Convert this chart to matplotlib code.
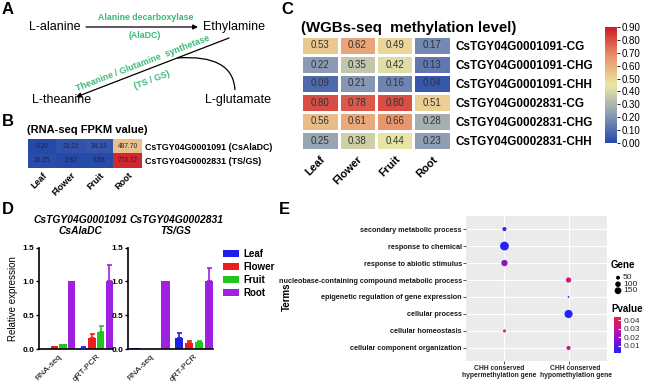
import numpy as np
import matplotlib.pyplot as plt
from matplotlib.colors import LinearSegmentedColormap
from matplotlib.patches import Patch, PathPatch
from matplotlib.path import Path

plt.rcParams['font.family'] = ['Liberation Sans', 'DejaVu Sans']

W, H = 650, 384

# B: RNA-seq FPKM
tissues = ["Leaf", "Flower", "Fruit", "Root"]
fpkm_genes = ["CsTGY04G0001091 (CsAlaDC)", "CsTGY04G0002831 (TS/GS)"]
fpkm = [[0.20, 23.22, 34.13, 487.70],
        [10.25, 2.82, 3.58, 773.72]]

# C: WGBS methylation level
meth_rows = ["CsTGY04G0001091-CG", "CsTGY04G0001091-CHG", "CsTGY04G0001091-CHH",
             "CsTGY04G0002831-CG", "CsTGY04G0002831-CHG", "CsTGY04G0002831-CHH"]
meth = [[0.53, 0.62, 0.49, 0.17],
        [0.22, 0.35, 0.42, 0.13],
        [0.09, 0.21, 0.16, 0.04],
        [0.80, 0.78, 0.80, 0.51],
        [0.56, 0.61, 0.66, 0.28],
        [0.25, 0.38, 0.44, 0.23]]

# D: relative expression, rows = tissues, cols = RNA-seq / qRT-PCR
d_groups = ["RNA-seq", "qRT-PCR"]
aladc_mean = [[0.0004, 0.02], [0.048, 0.16], [0.070, 0.255], [1.0, 1.0]]
aladc_err = [[0, 0.005], [0, 0.055], [0, 0.085], [0, 0.24]]
tsgs_mean = [[0.013, 0.16], [0.004, 0.09], [0.005, 0.10], [1.0, 1.0]]
tsgs_err = [[0, 0.08], [0, 0.03], [0, 0.012], [0, 0.20]]
bar_colors = ["#1f1fe8", "#ee1c1c", "#22c422", "#a020e0"]

# E: GO enrichment dot plot
terms = ["secondary metabolic process", "response to chemical",
         "response to abiotic stimulus",
         "nucleobase-containing compound metabolic process",
         "epigenetic regulation of gene expression", "cellular process",
         "cellular homeostasis", "cellular component organization"]
e_groups = ["CHH conserved\nhypermethylation gene", "CHH conserved\nhypomethylation gene"]
term_group = [0, 0, 0, 1, 1, 1, 0, 1]
gene_count = [55, 250, 130, 90, 10, 215, 30, 55]
pvalue = [0.007, 0.003, 0.02, 0.036, 0.008, 0.002, 0.042, 0.033]
gene_legend = [50, 100, 150]
p_ticks = [0.01, 0.02, 0.03, 0.04]


def box(x0, y0, x1, y1):
    return [x0 / W, 1 - y1 / H, (x1 - x0) / W, (y1 - y0) / H]


fig = plt.figure(figsize=(W / 100, H / 100), dpi=100)

# overlay in pixel coordinates for panel A, letters and legends
ov = fig.add_axes([0, 0, 1, 1])
ov.set_xlim(0, W)
ov.set_ylim(H, 0)
ov.axis('off')

for letter, (x, y) in zip("ABCDE", [(8, 10), (8, 121), (287, 10), (8, 210), (284, 210)]):
    ov.text(x, y, letter, fontsize=12, fontweight='bold', ha='center', va='center')

# ---- A: pathway ----
green = "#3cb878"
ov.text(55, 27, "L-alanine", fontsize=9, ha='center', va='center')
ov.text(234, 27, "Ethylamine", fontsize=9, ha='center', va='center')
ov.text(62, 100, "L-theanine", fontsize=9, ha='center', va='center')
ov.text(238, 100, "L-glutamate", fontsize=9, ha='center', va='center')
arr = dict(arrowstyle='-|>', lw=0.9, color='k', mutation_scale=7, shrinkA=0, shrinkB=0)
ov.annotate("", xy=(198, 27), xytext=(86, 27), arrowprops=arr)
ov.annotate("", xy=(76, 97), xytext=(229, 38), arrowprops=arr)
ov.text(146, 18, "Alanine decarboxylase", fontsize=6.3, fontweight='bold', color=green,
        ha='center', va='center')
ov.text(145, 36, "(AlaDC)", fontsize=6.3, fontweight='bold', color=green,
        ha='center', va='center')
ov.text(143, 63, "Theanine / Glutamine  synthetase", fontsize=6.4, fontweight='bold',
        color=green, ha='center', va='center', rotation=21)
ov.text(152, 80, "(TS / GS)", fontsize=6.4, fontweight='bold', color=green,
        ha='center', va='center', rotation=21)
curve = Path([(177, 58), (233, 54), (235, 90)], [Path.MOVETO, Path.CURVE3, Path.CURVE3])
ov.add_patch(PathPatch(curve, fill=False, lw=0.9, color='k'))

# ---- B: FPKM heatmap ----
ov.text(27, 130, "(RNA-seq FPKM value)", fontsize=8, fontweight='bold', va='center')
cmap_hm = LinearSegmentedColormap.from_list(
    "meth", ["#2549a8", "#8d9db5", "#ece7a5", "#e8906a", "#cc1a26"])
axb = fig.add_axes(box(28, 139, 142, 168))
axb.imshow(fpkm, cmap=cmap_hm, vmin=0, vmax=800, aspect='auto')
for i, row in enumerate(fpkm):
    for j, v in enumerate(row):
        axb.text(j, i, f"{v:.2f}", fontsize=4.8, ha='center', va='center', color='#222244')
axb.set_xticks(range(len(tissues)))
axb.set_xticklabels(tissues, rotation=45, ha='right', rotation_mode='anchor',
                    fontsize=6.5, fontweight='bold')
axb.yaxis.tick_right()
axb.set_yticks(range(len(fpkm_genes)))
axb.set_yticklabels(fpkm_genes, fontsize=6.4, fontweight='bold')
axb.tick_params(length=0, pad=2)
for s in axb.spines.values():
    s.set_visible(False)

# ---- C: methylation heatmap ----
ov.text(301, 28, "(WGBs-seq  methylation level)", fontsize=10.8, fontweight='bold', va='center')
axc = fig.add_axes(box(301, 36, 451, 150))
mesh = axc.pcolormesh(np.array(meth), cmap=cmap_hm, vmin=0, vmax=0.9,
                      edgecolors='white', linewidth=0.8)
axc.set_ylim(len(meth), 0)
for i, row in enumerate(meth):
    for j, v in enumerate(row):
        axc.text(j + 0.5, i + 0.5, f"{v:.2f}", fontsize=7, ha='center', va='center', color='#333333')
axc.set_xticks(np.arange(len(tissues)) + 0.5)
axc.set_xticklabels(tissues, rotation=45, ha='right', rotation_mode='anchor',
                    fontsize=8, fontweight='bold')
axc.yaxis.tick_right()
axc.set_yticks(np.arange(len(meth_rows)) + 0.5)
axc.set_yticklabels(meth_rows, fontsize=8.5, fontweight='bold')
axc.tick_params(length=0, pad=3)
for s in axc.spines.values():
    s.set_visible(False)
caxc = fig.add_axes(box(605, 27, 617, 143))
cbc = fig.colorbar(mesh, cax=caxc, ticks=np.arange(0, 0.91, 0.1))
cbc.ax.set_yticklabels([f"{t:.2f}" for t in np.arange(0, 0.91, 0.1)])
cbc.ax.tick_params(labelsize=7, length=2, width=0.6, pad=1)
cbc.outline.set_visible(False)


# ---- D: bar charts ----
def bar_panel(ax, mean, err):
    offs = (np.arange(4) - 1.5) * 0.23
    x = np.arange(len(d_groups))
    for k in range(4):
        m = np.array(mean[k])
        e = np.array(err[k])
        ax.bar(x + offs[k], m, width=0.19, color=bar_colors[k], zorder=2)
        ax.errorbar(x[1] + offs[k], m[1], yerr=[[0], [e[1]]], fmt='none',
                    ecolor=bar_colors[k], elinewidth=1.2, capsize=1.8, capthick=1.2, zorder=3)
    ax.set_xlim(-0.52, 1.44)
    ax.set_ylim(0, 1.5)
    ax.set_yticks([0, 0.5, 1.0, 1.5])
    ax.set_yticklabels(["0.0", "0.5", "1.0", "1.5"], fontsize=6, fontweight='bold')
    ax.set_xticks(x)
    ax.set_xticklabels(d_groups, rotation=45, ha='right', rotation_mode='anchor', fontsize=6)
    ax.tick_params(axis='y', length=2.5, width=1, pad=1)
    ax.tick_params(axis='x', length=0, pad=3)
    for s in ["top", "right"]:
        ax.spines[s].set_visible(False)
    for s in ["left", "bottom"]:
        ax.spines[s].set_linewidth(1.2)


axd1 = fig.add_axes(box(39, 247.5, 113, 349))
bar_panel(axd1, aladc_mean, aladc_err)
axd1.set_ylabel("Relative expression", fontsize=7)
axd1.yaxis.set_label_coords((18 - 39) / 74, 0.5)
axd2 = fig.add_axes(box(128, 247.5, 213, 349))
bar_panel(axd2, tsgs_mean, tsgs_err)
fig.text(80.5 / W, 1 - 225.5 / H, "CsTGY04G0001091\nCsAlaDC", fontsize=7.4, fontweight='bold',
         style='italic', ha='center', va='center', linespacing=1.05)
fig.text(176 / W, 1 - 225.5 / H, "CsTGY04G0002831\nTS/GS", fontsize=7.4, fontweight='bold',
         style='italic', ha='center', va='center', linespacing=1.05)
axd2.legend([Patch(facecolor=c) for c in bar_colors], tissues, loc='upper left',
            bbox_to_anchor=(223 / W, 1 - 249 / H), bbox_transform=fig.transFigure,
            frameon=False, prop={'size': 7, 'weight': 'bold'}, handlelength=1.6,
            handleheight=0.8, labelspacing=0.3, handletextpad=0.5,
            borderaxespad=0, borderpad=0)

# ---- E: GO dot plot ----
cmap_p = LinearSegmentedColormap.from_list("p", ["#2020ff", "#7a12d8", "#c0139a", "#f21c3c"])
size_k = 0.16
axe = fig.add_axes(box(466, 216, 607, 361))
axe.set_facecolor("#ebebeb")
yy = [len(terms) - i for i in range(len(terms))]
xx = [term_group[i] + 1 for i in range(len(terms))]
sc = axe.scatter(xx, yy, s=np.array(gene_count) * size_k, c=pvalue, cmap=cmap_p,
                 vmin=0.0016, vmax=0.044, zorder=3, linewidths=0)
axe.set_xlim(0.4, 2.6)
axe.set_ylim(0.23, 8.77)
axe.set_xticks([1, 2])
axe.set_xticklabels([])
# category labels sit slightly apart from the columns, as in the source figure
for gx, lab in zip([0.92, 2.11], e_groups):
    axe.text(gx, -0.025, lab, transform=axe.get_xaxis_transform(), fontsize=4.9,
             fontweight='bold', color='#222222', ha='center', va='top', linespacing=1.1)
axe.set_yticks(yy)
axe.set_yticklabels(terms, fontsize=5.2, fontweight='bold', color='#1a1a1a')
axe.grid(True, color='white', lw=0.8, zorder=0)
axe.set_axisbelow(True)
axe.tick_params(length=2, color='#333333', width=0.6, pad=1)
for s in axe.spines.values():
    s.set_visible(False)
fig.text(287 / W, 1 - 297 / H, "Terms", fontsize=7, fontweight='bold', rotation=90,
         ha='center', va='center')

# size legend
ov.text(611, 265, "Gene", fontsize=7, fontweight='bold', va='center')
leg_y = [277.7, 284.2, 290.7]
ov.scatter([618] * len(gene_legend), leg_y, s=np.array(gene_legend) * size_k, c='k',
           linewidths=0)
for g, y in zip(gene_legend, leg_y):
    ov.text(623, y, str(g), fontsize=6, va='center', color='#222222')

# colour bar
ov.text(611, 309, "Pvalue", fontsize=7, fontweight='bold', va='center')
caxe = fig.add_axes(box(614, 317, 621, 353))
cbe = fig.colorbar(sc, cax=caxe, ticks=p_ticks)
cbe.ax.tick_params(labelsize=6, length=2, color='white', direction='in', pad=2,
                   labelcolor='#333333')
cbe.outline.set_visible(False)

fig.savefig("out.png", dpi=100)
